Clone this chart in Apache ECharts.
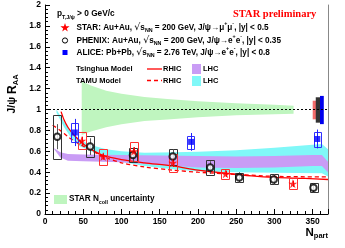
<!DOCTYPE html>
<html><head><meta charset="utf-8">
<script src="https://cdn.jsdelivr.net/npm/echarts@6/dist/echarts.min.js"></script>
<style>html,body{margin:0;padding:0;background:#fff}#c{width:345px;height:248px}</style>
</head><body><div id="c"></div>
<script>
// ---------- data ----------
// STAR Au+Au 200 GeV, J/psi -> mu+ mu-
const starNpart = [48, 76, 116, 167, 236, 324];
const starRaa   = [0.70, 0.55, 0.60, 0.49, 0.385, 0.29];
const starStat  = [0.04, 0.03, 0.04, 0.04, 0.03, 0.03];
const starSys   = [0.08, 0.075, 0.09, 0.085, 0.05, 0.052];
// PHENIX Au+Au 200 GeV, J/psi -> e+ e-
const phxNpart = [16, 59, 115, 167, 216, 254, 299, 351];
const phxRaa   = [0.74, 0.645, 0.565, 0.55, 0.445, 0.35, 0.33, 0.252];
const phxStat  = [0.12, 0.08, 0.07, 0.07, 0.06, 0.05, 0.05, 0.045];
const phxSys   = [0.21, 0.10, 0.065, 0.075, 0.07, 0.045, 0.048, 0.045];
// ALICE Pb+Pb 2.76 TeV
const aliNpart = [39, 191, 356];
const aliRaa   = [0.78, 0.69, 0.718];
const aliStat  = [0.13, 0.085, 0.09];
const aliSys   = [0.09, 0.06, 0.07];
// Tsinghua model RHIC (solid)
const tsiNpart = [21, 25, 30, 35, 40, 50, 60, 76, 100, 130, 167, 200, 236, 270, 300, 340, 370];
const tsiRaa   = [0.98, 0.90, 0.83, 0.78, 0.74, 0.67, 0.62, 0.56, 0.52, 0.49, 0.46, 0.42, 0.39, 0.365, 0.35, 0.34, 0.33];
// TAMU model RHIC (dashed)
const tamNpart = [10, 20, 30, 40, 50, 76, 100, 130, 167, 200, 250, 300, 370];
const tamRaa   = [0.85, 0.80, 0.74, 0.69, 0.65, 0.55, 0.49, 0.45, 0.42, 0.40, 0.38, 0.36, 0.355];
// Tsinghua model LHC band [Npart, low, high]
const tsiLhcNpart = [12, 20, 30, 50, 100, 150, 200, 250, 300, 350, 362, 370];
const tsiLhcLow   = [0.62, 0.54, 0.51, 0.505, 0.495, 0.47, 0.445, 0.44, 0.445, 0.46, 0.46, 0.40];
const tsiLhcHigh  = [0.63, 0.59, 0.575, 0.57, 0.565, 0.56, 0.555, 0.55, 0.555, 0.565, 0.565, 0.50];
// TAMU model LHC band
const tamLhcNpart = [15, 25, 35, 45, 60, 80, 100, 130, 170, 200, 250, 300, 362, 370];
const tamLhcLow   = [0.97, 0.83, 0.72, 0.65, 0.60, 0.55, 0.50, 0.46, 0.425, 0.41, 0.40, 0.395, 0.39, 0.36];
const tamLhcHigh  = [1.00, 0.88, 0.78, 0.71, 0.66, 0.62, 0.60, 0.585, 0.59, 0.595, 0.61, 0.635, 0.67, 0.62];
// STAR Ncoll uncertainty band
const ncollNpart = [48, 60, 80, 100, 130, 160, 200, 250, 300, 325];
const ncollLow   = [0.755, 0.79, 0.83, 0.86, 0.89, 0.905, 0.925, 0.945, 0.955, 0.96];
const ncollHigh  = [1.27, 1.23, 1.18, 1.15, 1.12, 1.10, 1.08, 1.06, 1.045, 1.035];
// global uncertainties (at right, y = 1)
const globNpart0 = [350, 354, 359.5];
const globNpart1 = [355, 360, 364.5];
const globLow    = [0.906, 0.874, 0.86];
const globHigh   = [1.084, 1.117, 1.13];
// reference line at unity
const refX = [0, 370];
const refY = [1, 1];
// ticks
const xTicks = {min: 0, max: 370, interval: 50};
const yTicks = {min: 0, max: 2, interval: 0.2};

// ---------- chart ----------
const F = 'Liberation Sans, Arial, Helvetica, sans-serif';
const chart = echarts.init(document.getElementById('c'), null, {renderer: 'canvas'});

function zip2(a, b) { return a.map((v, i) => [v, b[i]]); }

function bandSeries(xs, lo, hi, color, z) {
  const rows = xs.map((v, i) => [v, lo[i], hi[i]]);
  return {
    type: 'custom', z: z, silent: true, clip: true, data: rows,
    encode: {x: 0, y: [1, 2]},
    renderItem: function (p, api) {
      if (p.dataIndex !== 0) return null;
      const top = rows.map(r => api.coord([r[0], r[2]]));
      const bot = rows.slice().reverse().map(r => api.coord([r[0], r[1]]));
      return {type: 'polygon', shape: {points: top.concat(bot)}, style: {fill: color}};
    }
  };
}
function boxSeries(xs, ys, sys, halfW, stroke, z) {
  return {
    type: 'custom', z: z, silent: true, clip: true,
    data: xs.map((v, i) => [v, ys[i] - sys[i], ys[i] + sys[i]]),
    encode: {x: 0, y: [1, 2]},
    renderItem: function (p, api) {
      const a = api.coord([api.value(0) - halfW, api.value(2)]);
      const b = api.coord([api.value(0) + halfW, api.value(1)]);
      return {type: 'rect', shape: {x: Math.round(a[0]) + 0.5, y: Math.round(a[1]) + 0.5,
        width: Math.round(b[0] - a[0]), height: Math.round(b[1] - a[1])},
        style: {fill: 'none', stroke: stroke, lineWidth: 1}};
    }
  };
}
function errSeries(xs, ys, err, color, z) {
  return {
    type: 'custom', z: z, silent: true, clip: true,
    data: xs.map((v, i) => [v, ys[i] - err[i], ys[i] + err[i]]),
    encode: {x: 0, y: [1, 2]},
    renderItem: function (p, api) {
      const a = api.coord([api.value(0), api.value(1)]);
      const b = api.coord([api.value(0), api.value(2)]);
      const x = Math.round(a[0]) + 0.5;
      return {type: 'line', shape: {x1: x, y1: a[1], x2: x, y2: b[1]}, style: {stroke: color, lineWidth: 1}};
    }
  };
}
function globSeries(colors, z) {
  return {
    type: 'custom', z: z, silent: true, clip: false,
    data: globNpart0.map((v, i) => [v, globLow[i], globHigh[i], globNpart1[i]]),
    encode: {x: [0, 3], y: [1, 2]},
    renderItem: function (p, api) {
      const a = api.coord([api.value(0), api.value(2)]);
      const b = api.coord([api.value(3), api.value(1)]);
      return {type: 'rect', shape: {x: a[0], y: a[1], width: b[0] - a[0], height: b[1] - a[1]},
        style: {fill: colors[p.dataIndex]}};
    }
  };
}
const starPath = 'path://M50,0 L61,35 L98,35 L68,57 L79,91 L50,70 L21,91 L32,57 L2,35 L39,35 Z';

const txt = {fontFamily: F, fontWeight: 'bold', fontSize: 7.5, fill: '#000'};
function richStyles(base) {
  return {
    t: {fontFamily: F, fontWeight: 'bold', fontSize: base, lineHeight: 12, fill: '#000'},
    r: {fontFamily: 'DejaVu Sans, sans-serif', fontSize: base * 1.15, lineHeight: 12, fill: '#000'},
    sub: {fontFamily: F, fontWeight: 'bold', fontSize: base * 0.65, lineHeight: 6, verticalAlign: 'bottom', fill: '#000'},
    sup: {fontFamily: F, fontWeight: 'bold', fontSize: base * 0.65, lineHeight: 6, verticalAlign: 'top', fill: '#000'}
  };
}
function rtext(x, y, s, base, extra) {
  return Object.assign({type: 'text', x: x, y: y, z: 100,
    style: {text: s, rich: richStyles(base || 8.2), verticalAlign: 'middle', align: 'left'}}, extra || {});
}

const option = {
  animation: false,
  backgroundColor: '#fff',
  grid: {left: 45, right: 17, top: 5, bottom: 34},
  xAxis: {
    type: 'value', min: xTicks.min, max: xTicks.max, interval: xTicks.interval,
    axisLine: {lineStyle: {color: '#000', width: 1}},
    axisTick: {inside: true, length: 5, lineStyle: {color: '#000'}},
    minorTick: {show: true, splitNumber: 5, length: 3, lineStyle: {color: '#000'}},
    splitLine: {show: false},
    axisLabel: {color: '#000', fontFamily: F, fontWeight: 'bold', fontSize: 8.5, margin: 3, showMaxLabel: false}
  },
  yAxis: [{
    type: 'value', min: yTicks.min, max: yTicks.max, interval: yTicks.interval,
    axisLine: {show: true, lineStyle: {color: '#000', width: 1}},
    axisTick: {inside: true, length: 5, lineStyle: {color: '#000'}},
    minorTick: {show: true, splitNumber: 5, length: 3, lineStyle: {color: '#000'}},
    splitLine: {show: false},
    axisLabel: {color: '#000', fontFamily: F, fontWeight: 'bold', fontSize: 8.5, margin: 4}
  }, {
    type: 'value', min: yTicks.min, max: yTicks.max, position: 'right',
    axisLine: {show: true, lineStyle: {color: '#888', width: 1}},
    axisTick: {show: false}, axisLabel: {show: false}, splitLine: {show: false}
  }],
  series: [
    bandSeries(ncollNpart, ncollLow, ncollHigh, '#bff5bf', 1),
    bandSeries(tamLhcNpart, tamLhcLow, tamLhcHigh, '#80f8f8', 2),
    bandSeries(tsiLhcNpart, tsiLhcLow, tsiLhcHigh, '#c99cf5', 3),
    {type: 'line', z: 4, data: zip2(refX, refY), showSymbol: false, silent: true,
      lineStyle: {color: '#000', width: 1, type: [2, 2]}},
    globSeries(['#f46b6b', '#333333', '#0000ee'], 4),
    {type: 'line', z: 5, data: zip2(tsiNpart, tsiRaa), showSymbol: false, smooth: 0.3, silent: true,
      lineStyle: {color: '#ff0000', width: 1.3}},
    {type: 'line', z: 5, data: zip2(tamNpart, tamRaa), showSymbol: false, smooth: 0.3, silent: true,
      lineStyle: {color: '#ff0000', width: 1.3, type: [4, 3]}},
    boxSeries(phxNpart, phxRaa, phxSys, 5, '#333333', 6),
    boxSeries(starNpart, starRaa, starSys, 5.5, '#ff3030', 6),
    boxSeries(aliNpart, aliRaa, aliSys, 4.8, '#3030ff', 6),
    errSeries(phxNpart, phxRaa, phxStat, '#555555', 7),
    errSeries(starNpart, starRaa, starStat, '#ff0000', 7),
    errSeries(aliNpart, aliRaa, aliStat, '#2020ff', 7),
    {type: 'scatter', z: 8, data: zip2(phxNpart, phxRaa), symbol: 'emptyCircle', symbolSize: 6.5,
      itemStyle: {color: '#000', borderWidth: 1.2}, silent: true},
    {type: 'scatter', z: 8, data: zip2(starNpart, starRaa), symbol: starPath, symbolSize: 9,
      itemStyle: {color: '#ff0000'}, silent: true},
    {type: 'scatter', z: 8, data: zip2(aliNpart, aliRaa), symbol: 'rect', symbolSize: 6,
      itemStyle: {color: '#0000ff'}, silent: true}
  ],
  graphic: [
    rtext(57, 14, '{t|p}{sub|T,J/ψ}{t| > 0 GeV/c}', 8.3),
    {type: 'text', x: 233, y: 14, z: 100, style: {text: 'STAR preliminary', fontFamily: 'Liberation Serif, Times New Roman, serif',
      fontWeight: 'bold', fontSize: 10.5, fill: '#ff0000', verticalAlign: 'middle', align: 'left'}},
    {type: 'polygon', z: 100, shape: {points: [[65,23],[66.1,26.3],[69.6,26.3],[66.8,28.4],[67.8,31.6],[65,29.6],[62.2,31.6],[63.2,28.4],[60.4,26.3],[63.9,26.3]]},
      style: {fill: '#ff0000'}},
    rtext(76.5, 27.5, '{t|STAR: Au+Au, }{r|√}{t|s}{sub|NN}{t| = 200 GeV, J/ψ→μ}{sup|+}{t|μ}{sup|-}{t|, |y| < 0.5}'),
    {type: 'circle', z: 100, shape: {cx: 65, cy: 40.5, r: 2.6}, style: {fill: '#fff', stroke: '#000', lineWidth: 1}},
    rtext(76.5, 40.5, '{t|PHENIX: Au+Au, }{r|√}{t|s}{sub|NN}{t| = 200 GeV, J/ψ→e}{sup|+}{t|e}{sup|-}{t|, |y| < 0.35}'),
    {type: 'rect', z: 100, shape: {x: 62.5, y: 50, width: 5, height: 5}, style: {fill: '#0000ff'}},
    rtext(76.5, 52.5, '{t|ALICE: Pb+Pb, }{r|√}{t|s}{sub|NN}{t| = 2.76 TeV, J/ψ→e}{sup|+}{t|e}{sup|-}{t|, |y| < 0.8}'),
    {type: 'text', x: 76, y: 69, z: 100, style: Object.assign({text: 'Tsinghua Model', verticalAlign: 'middle'}, txt)},
    {type: 'line', z: 100, shape: {x1: 147, y1: 69, x2: 162, y2: 69}, style: {stroke: '#ff0000', lineWidth: 1.3}},
    {type: 'text', x: 163, y: 69, z: 100, style: Object.assign({text: 'RHIC', verticalAlign: 'middle'}, txt)},
    {type: 'rect', z: 100, shape: {x: 192, y: 64, width: 9, height: 10}, style: {fill: '#c99cf5'}},
    {type: 'text', x: 203, y: 69, z: 100, style: Object.assign({text: 'LHC', verticalAlign: 'middle'}, txt)},
    {type: 'text', x: 76, y: 80.5, z: 100, style: Object.assign({text: 'TAMU Model', verticalAlign: 'middle'}, txt)},
    {type: 'line', z: 100, shape: {x1: 147, y1: 80.5, x2: 162, y2: 80.5}, style: {stroke: '#ff0000', lineWidth: 1.3, lineDash: [4, 3]}},
    {type: 'text', x: 163, y: 80.5, z: 100, style: Object.assign({text: 'RHIC', verticalAlign: 'middle'}, txt)},
    {type: 'rect', z: 100, shape: {x: 192, y: 76, width: 9, height: 10}, style: {fill: '#80f8f8'}},
    {type: 'text', x: 203, y: 80.5, z: 100, style: Object.assign({text: 'LHC', verticalAlign: 'middle'}, txt)},
    {type: 'rect', z: 100, shape: {x: 54, y: 195, width: 13, height: 9}, style: {fill: '#bff5bf'}},
    rtext(69, 199, '{t|STAR N}{sub|coll}{t| uncertainty}'),
    {type: 'text', z: 100, x: 12.5, y: 94, rotation: Math.PI / 2,
      style: {text: '{a|J/ψ }{b|R}{c|AA}', align: 'center', verticalAlign: 'middle',
        rich: {a: {fontFamily: F, fontWeight: 'bold', fontSize: 10.5, lineHeight: 14, fill: '#000'},
               b: {fontFamily: F, fontWeight: 'bold', fontSize: 12, lineHeight: 14, fill: '#000'},
               c: {fontFamily: F, fontWeight: 'bold', fontSize: 7.5, lineHeight: 7, verticalAlign: 'bottom', fill: '#000'}}}},
    {type: 'text', z: 100, x: 328, y: 233,
      style: {text: '{b|N}{c|part}', align: 'right', verticalAlign: 'middle',
        rich: {b: {fontFamily: F, fontWeight: 'bold', fontSize: 11.5, lineHeight: 14, fill: '#000'},
               c: {fontFamily: F, fontWeight: 'bold', fontSize: 7.5, lineHeight: 7, verticalAlign: 'bottom', fill: '#000'}}}}
  ]
};
chart.setOption(option);
</script>
</body></html>
